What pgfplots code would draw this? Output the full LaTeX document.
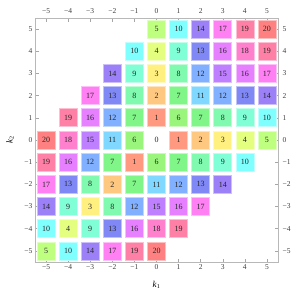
\documentclass[border=0pt]{standalone}
\usepackage{pgfplots}
\pgfplotsset{compat=1.18}
\usepackage{fontspec}
\setmainfont{Liberation Serif}
\definecolor{c1}{RGB}{255,154,128}
\definecolor{c2}{RGB}{255,200,128}
\definecolor{c3}{RGB}{255,240,128}
\definecolor{c4}{RGB}{228,255,128}
\definecolor{c5}{RGB}{191,255,128}
\definecolor{c6}{RGB}{153,245,124}
\definecolor{c7}{RGB}{128,245,136}
\definecolor{c8}{RGB}{128,250,175}
\definecolor{c9}{RGB}{128,255,214}
\definecolor{c10}{RGB}{128,255,255}
\definecolor{c11}{RGB}{128,215,255}
\definecolor{c12}{RGB}{128,176,255}
\definecolor{c13}{RGB}{128,136,245}
\definecolor{c14}{RGB}{155,128,248}
\definecolor{c15}{RGB}{191,128,255}
\definecolor{c16}{RGB}{230,128,255}
\definecolor{c17}{RGB}{255,128,242}
\definecolor{c18}{RGB}{255,128,204}
\definecolor{c19}{RGB}{255,128,166}
\definecolor{c20}{RGB}{255,128,128}
\pgfplotsset{
  commonaxis/.style={
    scale only axis, width=243pt, height=244pt,
    xmin=-5.5, xmax=5.5, ymin=-5.5, ymax=5.5,
    xtick={-5,...,5}, ytick={-5,...,5},
    xticklabels={−5,−4,−3,−2,−1,0,1,2,3,4,5},
    yticklabels={−5,−4,−3,−2,−1,0,1,2,3,4,5},
    tick label style={font=\fontsize{7.5}{9}\selectfont, text=black!75},
    xticklabel style={yshift=1pt},
    yticklabel style={xshift=1pt},
  },
}
\newcommand{\sqplot}[2]{%
  \addplot[only marks, mark=square*, mark size=9pt,
    mark options={fill=c#1, draw=c#1!50!white, line width=0.7pt},
    nodes near coords={#1}, nodes near coords align={center},
    every node near coord/.append style={text=black!85, font=\fontsize{8}{9}\selectfont, anchor=center}]
    coordinates {#2};}
\begin{document}
\begin{tikzpicture}
\begin{axis}[
  commonaxis,
  axis line style={draw=black!28, line width=0.8pt},
  major tick style={draw=black!35, line width=0.5pt},
  major tick length=3.5pt,
  tick align=inside,
  xlabel={\textit{k}\textsubscript{1}},
  ylabel={\textit{k}\textsubscript{2}},
  label style={font=\fontsize{9}{10}\selectfont},
  xlabel style={at={(axis description cs:0.5,-0.094)}, anchor=center},
  ylabel style={at={(axis description cs:-0.103,0.5)}, anchor=center},
]
\addplot[only marks, black!85, mark=text, text mark={0}, text mark as node=true,
  text mark style={font=\fontsize{8}{9}\selectfont, text=black!85, anchor=center}]
  coordinates {(0,0)};
\sqplot{1}{(0,1) (1,0) (-1,-1)}
\sqplot{2}{(0,2) (2,0) (-2,-2)}
\sqplot{3}{(0,3) (3,0) (-3,-3)}
\sqplot{4}{(0,4) (4,0) (-4,-4)}
\sqplot{5}{(0,5) (5,0) (-5,-5)}
\sqplot{6}{(1,1) (-1,0) (0,-1)}
\sqplot{7}{(1,2) (2,1) (-1,1) (-2,-1) (1,-1) (-1,-2)}
\sqplot{8}{(1,3) (3,1) (-1,2) (-3,-2) (2,-1) (-2,-3)}
\sqplot{9}{(1,4) (4,1) (-1,3) (-4,-3) (3,-1) (-3,-4)}
\sqplot{10}{(1,5) (-1,4) (5,1) (4,-1) (-4,-5) (-5,-4)}
\sqplot{11}{(2,2) (-2,0) (0,-2)}
\sqplot{12}{(2,3) (3,2) (-2,1) (-3,-1) (1,-2) (-1,-3)}
\sqplot{13}{(2,4) (4,2) (-2,2) (-4,-2) (2,-2) (-2,-4)}
\sqplot{14}{(2,5) (5,2) (-2,3) (-5,-3) (3,-2) (-3,-5)}
\sqplot{15}{(3,3) (-3,0) (0,-3)}
\sqplot{16}{(3,4) (4,3) (-3,1) (-4,-1) (1,-3) (-1,-4)}
\sqplot{17}{(3,5) (5,3) (-3,2) (-5,-2) (2,-3) (-2,-5)}
\sqplot{18}{(4,4) (-4,0) (0,-4)}
\sqplot{19}{(4,5) (5,4) (-4,1) (-5,-1) (1,-4) (-1,-5)}
\sqplot{20}{(5,5) (-5,0) (0,-5)}
\end{axis}
\begin{axis}[
  commonaxis,
  axis line style={draw=none},
  major tick style={draw=none},
  xticklabel pos=right, yticklabel pos=right,
]
\end{axis}
\path ([xshift=-35pt, yshift=-33pt]current axis.south west) rectangle ([xshift=30pt, yshift=18pt]current axis.north east);
\end{tikzpicture}
\end{document}
